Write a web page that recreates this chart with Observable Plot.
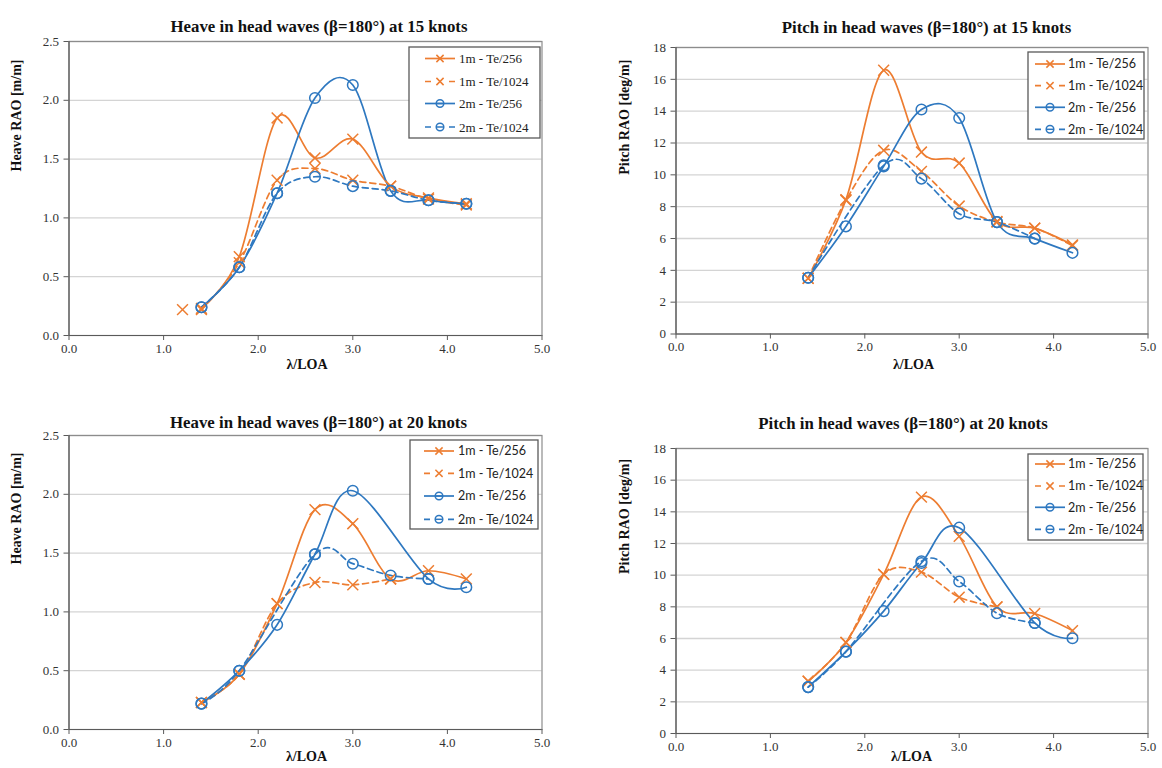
<!DOCTYPE html>
<html><head><meta charset="utf-8">
<script src="https://cdn.jsdelivr.net/npm/d3@7"></script>
<script src="https://cdn.jsdelivr.net/npm/@observablehq/plot@0.6"></script>
<style>
body{margin:0;background:#fff;}
#root{position:relative;width:1162px;height:768px;overflow:hidden;background:#fff;}
.panel{position:absolute;width:581px;height:384px;}
.panel svg{overflow:visible;}
.panel svg g[aria-label$="tick label"] text{font-size:13px;}
.panel svg .legend text{text-anchor:start;}
</style></head><body><div id="root"></div>
<script>
// ---- data ----
const lambda = [1.4, 1.8, 2.2, 2.6, 3.0, 3.4, 3.8, 4.2];
const seriesNames = ["1m - Te/256", "1m - Te/1024", "2m - Te/256", "2m - Te/1024"];

// Heave, 15 knots
const heave15_1m_256  = [0.23, 0.67, 1.85, 1.51, 1.67, 1.27, 1.17, 1.12];
const heave15_1m_1024 = [0.22, 0.62, 1.32, 1.42, 1.32, 1.27, 1.16, 1.11];
const heave15_2m_256  = [0.24, 0.58, 1.21, 2.02, 2.13, 1.23, 1.15, 1.12];
const heave15_2m_1024 = [0.24, 0.58, 1.21, 1.35, 1.27, 1.23, 1.15, 1.12];
const heave15_extraLambda = [1.2];
const heave15_extra_1m_256 = [0.22];

// Pitch, 15 knots
const pitch15_1m_256  = [3.5, 8.44, 16.57, 11.43, 10.74, 7.07, 6.65, 5.6];
const pitch15_1m_1024 = [3.5, 8.4, 11.54, 10.22, 8.04, 7.03, 6.65, 5.55];
const pitch15_2m_256  = [3.53, 6.76, 10.53, 14.1, 13.57, 7.03, 5.99, 5.1];
const pitch15_2m_1024 = [3.53, null, 10.6, 9.76, 7.56, 7.03, 6.0, null];

// Heave, 20 knots
const heave20_1m_256  = [0.23, 0.47, 1.07, 1.87, 1.75, 1.28, 1.35, 1.28];
const heave20_1m_1024 = [0.23, 0.47, 1.07, 1.25, 1.23, 1.28, null, null];
const heave20_2m_256  = [0.22, 0.5, 0.89, 1.49, 2.03, null, 1.28, 1.21];
const heave20_2m_1024 = [0.22, 0.5, null, 1.49, 1.41, 1.31, 1.28, null];

// Pitch, 20 knots
const pitch20_1m_256  = [3.3, 5.75, 10.05, 14.93, 12.45, 8.0, 7.58, 6.5];
const pitch20_1m_1024 = [3.3, 5.75, 10.05, 10.19, 8.61, 8.0, null, null];
const pitch20_2m_256  = [2.93, 5.17, 7.73, 10.77, 13.0, null, 6.98, 6.02];
const pitch20_2m_1024 = [2.93, 5.17, null, 10.88, 9.6, 7.6, 6.98, null];

const xTicks = [0, 1, 2, 3, 4, 5];
const heaveTicks = [0, 0.5, 1.0, 1.5, 2.0, 2.5];
const pitchTicks = [0, 2, 4, 6, 8, 10, 12, 14, 16, 18];
const titles = [
  "Heave in head waves (β=180°) at 15 knots",
  "Pitch in head waves (β=180°) at 15 knots",
  "Heave in head waves (β=180°) at 20 knots",
  "Pitch in head waves (β=180°) at 20 knots"
];
const yLabels = ["Heave RAO [m/m]", "Pitch RAO [deg/m]"];
const xLabel = "λ/LOA";

// ---- styles ----
const ORANGE = "#ed7d31", BLUE = "#2e78c0";
const sColor = [ORANGE, ORANGE, BLUE, BLUE];
const sDash = [null, "6,4", null, "6,4"];
const sSymbol = ["times", "times", "circle", "circle"];
const SERIF = "'Liberation Serif', 'Times New Roman', serif";

const panels = [
  {left:0, top:0, ml:68.5, mr:39.5, mt:41, mb:49, series:[heave15_1m_256,heave15_1m_1024,heave15_2m_256,heave15_2m_1024],
   ticks:heaveTicks, fmt:d=>d.toFixed(1), ymax:2.5, title:titles[0], ylab:yLabels[0],
   tdx:13.5, tdy:-21.7, ydx:-52, ydy:-17, xdx:1.5, xdy:33,
   legend:{x0:409,x1:540,y0:47,y1:138,rows:[58.5,81.5,103.5,127],lx0:425,lx1:455,tx:459,font:SERIF,fs:13},
   extra:true},
  {left:581, top:0, ml:94.5, mr:14.5, mt:47, mb:50.5, series:[pitch15_1m_256,pitch15_1m_1024,pitch15_2m_256,pitch15_2m_1024],
   ticks:pitchTicks, fmt:d=>String(d), ymax:18, title:titles[1], ylab:yLabels[1],
   tdx:14.5, tdy:-26.3, ydx:-51, ydy:-16, xdx:1.5, xdy:35,
   legend:{x0:447,x1:563,y0:52,y1:139,rows:[64,85.7,107.3,129.3],lx0:454,lx1:484,tx:487,font:"Lato, sans-serif",fs:12.5}},
  {left:0, top:384, ml:68.5, mr:39.5, mt:51, mb:39, series:[heave20_1m_256,heave20_1m_1024,heave20_2m_256,heave20_2m_1024],
   ticks:heaveTicks, fmt:d=>d.toFixed(1), ymax:2.5, title:titles[2], ylab:yLabels[0],
   tdx:13, tdy:-19.3, ydx:-52, ydy:-18, xdx:1, xdy:31.7,
   legend:{x0:410,x1:538,y0:56,y1:145,rows:[67,89.3,112,135.3],lx0:424,lx1:454,tx:458,font:"Lato, sans-serif",fs:12.5}},
  {left:581, top:384, ml:94.5, mr:14.5, mt:64, mb:35, series:[pitch20_1m_256,pitch20_1m_1024,pitch20_2m_256,pitch20_2m_1024],
   ticks:pitchTicks, fmt:d=>String(d), ymax:18, title:titles[3], ylab:yLabels[1],
   tdx:-9, tdy:-31.3, ydx:-51, ydy:-17, xdx:-0.5, xdy:27.7,
   legend:{x0:447,x1:562,y0:70,y1:156,rows:[80,102,123.3,145.3],lx0:454,lx1:484,tx:487,font:"Lato, sans-serif",fs:12.5}}
];

const root = document.getElementById("root");

panels.forEach((p, pi) => {
  const marks = [
    Plot.gridY(p.ticks.filter(t => t > 0), {stroke:"#d4d4d4", strokeOpacity:1, strokeWidth:1.3}),
    Plot.frame({stroke:"#8c8c8c", strokeWidth:1.2}),
    Plot.ruleX([0], {stroke:"#5a5a5a", strokeWidth:1.2}),
    Plot.ruleY([0], {stroke:"#5a5a5a", strokeWidth:1.2}),
    Plot.axisX(xTicks, {tickSize:5, tickPadding:3, tickFormat:d=>d.toFixed(1), label:null, stroke:"#5a5a5a", fill:"#333"}),
    Plot.axisY(p.ticks, {tickSize:5, tickPadding:5, tickFormat:p.fmt, label:null, stroke:"#5a5a5a", fill:"#333"})
  ];
  p.series.forEach((vals, si) => {
    const rows = lambda.map((x, j) => ({x, y: vals[j]})).filter(d => d.y != null);
    marks.push(Plot.line(rows, {x:"x", y:"y", curve:"cardinal", stroke:sColor[si], strokeWidth:1.7,
      strokeDasharray: sDash[si] || undefined}));
  });
  p.series.forEach((vals, si) => {
    const rows = lambda.map((x, j) => ({x, y: vals[j]})).filter(d => d.y != null);
    marks.push(Plot.dot(rows, {x:"x", y:"y", symbol:sSymbol[si], r: sSymbol[si]==="circle" ? 5.3 : 5,
      stroke:sColor[si], strokeWidth:1.5, fill:"none"}));
  });
  if (p.extra) {
    const rows = heave15_extraLambda.map((x, j) => ({x, y: heave15_extra_1m_256[j]}));
    marks.push(Plot.dot(rows, {x:"x", y:"y", symbol:"times", r:5, stroke:ORANGE, strokeWidth:1.5}));
  }
  marks.push(Plot.text([p.title], {frameAnchor:"top", dx:p.tdx, dy:p.tdy, fontWeight:"bold", fontSize:16.8, fill:"#111"}));
  marks.push(Plot.text([p.ylab], {frameAnchor:"left", dx:p.ydx, dy:p.ydy, rotate:-90, fontWeight:"bold", fontSize:14, fill:"#111"}));
  marks.push(Plot.text([xLabel], {frameAnchor:"bottom", dx:p.xdx, dy:p.xdy, fontWeight:"bold", fontSize:14, fill:"#111"}));

  const svg = Plot.plot({
    width:581, height:384,
    marginLeft:p.ml, marginRight:p.mr, marginTop:p.mt, marginBottom:p.mb,
    x:{domain:[0,5]},
    y:{domain:[0,p.ymax]},
    style:{fontFamily:SERIF, fontSize:"13px", color:"#333", background:"transparent"},
    marks
  });

  // legend
  const L = p.legend;
  const g = d3.select(svg).append("g").attr("class","legend");
  g.append("rect").attr("x",L.x0).attr("y",L.y0).attr("width",L.x1-L.x0).attr("height",L.y1-L.y0)
    .attr("fill","#fff").attr("stroke","#595959").attr("stroke-width",1.3);
  seriesNames.forEach((name, si) => {
    const y = L.rows[si], mx = (L.lx0 + L.lx1) / 2;
    const line = g.append("line").attr("x1",L.lx0).attr("x2",L.lx1).attr("y1",y).attr("y2",y)
      .attr("stroke",sColor[si]).attr("stroke-width",1.7);
    if (sDash[si]) line.attr("stroke-dasharray","6,18");
    if (sSymbol[si] === "times") {
      const s = 3.6;
      g.append("path").attr("d",`M${mx-s},${y-s}L${mx+s},${y+s}M${mx-s},${y+s}L${mx+s},${y-s}`)
        .attr("stroke",sColor[si]).attr("stroke-width",1.5).attr("fill","none");
    } else {
      g.append("circle").attr("cx",mx).attr("cy",y).attr("r",3.8)
        .attr("stroke",sColor[si]).attr("stroke-width",1.5).attr("fill","none");
      g.append("line").attr("x1",mx-3.8).attr("x2",mx+3.8).attr("y1",y).attr("y2",y)
        .attr("stroke",sColor[si]).attr("stroke-width",1.5);
    }
    g.append("text").attr("x",L.tx).attr("y",y).attr("dy","0.35em").attr("fill","#222")
      .attr("text-anchor","start")
      .style("font-family",L.font).style("font-size",L.fs+"px").text(name);
  });

  const div = document.createElement("div");
  div.className = "panel";
  div.style.left = p.left + "px";
  div.style.top = p.top + "px";
  div.appendChild(svg);
  root.appendChild(div);
});
</script>
</body></html>
